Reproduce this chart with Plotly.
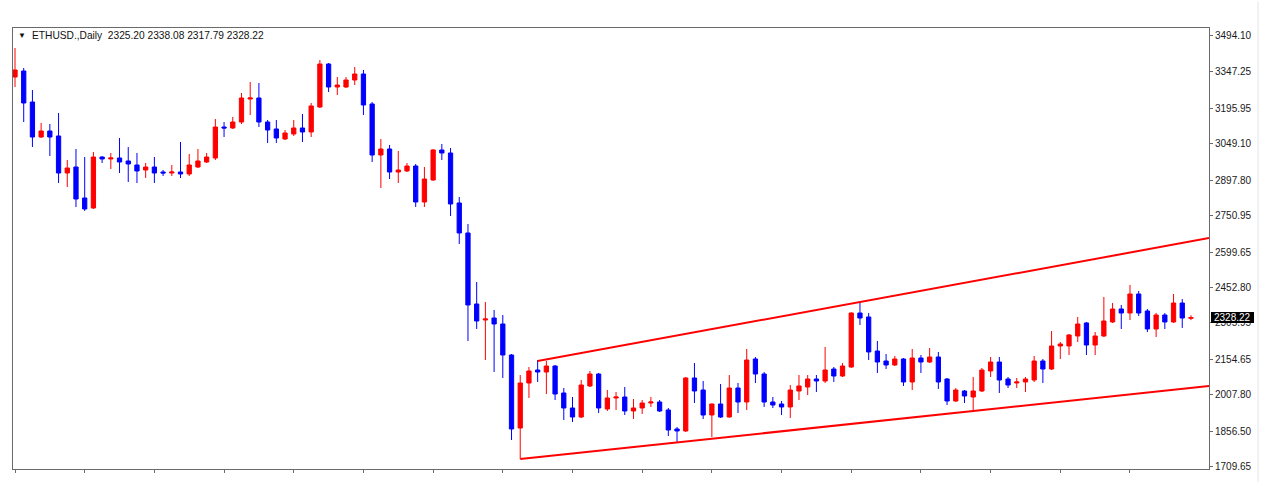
import plotly.graph_objects as go

# ---------------- data ----------------
symbol = "ETHUSD.,Daily"

opens = [3324.3, 3349.2, 3220.8, 3075.9, 3100.8, 3080.1, 2926.9, 2951.7, 2823.4, 2782.0,
         2993.1, 2984.9, 2989.0, 2976.6, 2960.0, 2939.3, 2951.7, 2931.0, 2926.9, 2931.0,
         2922.8, 2951.7, 2972.4, 2989.0, 3117.3, 3113.2, 3138.0, 3233.2, 3237.4, 3138.0,
         3109.1, 3067.6, 3088.4, 3113.2, 3096.7, 3200.1, 3378.1, 3282.9, 3282.9, 3311.9,
         3336.7, 3212.6, 3001.4, 3026.2, 2931.0, 2935.2, 2955.8, 2806.8, 2897.9, 3022.1,
         3009.7, 2802.7, 2678.5, 2384.5, 2318.2, 2326.5, 2301.7, 2173.3, 1871.1, 2057.4,
         2111.2, 2102.9, 2127.7, 2016.0, 1953.9, 1916.6, 2045.0, 2094.6, 1949.8, 1995.3,
         1999.4, 1941.5, 1953.9, 1974.6, 1978.7, 1945.6, 1867.0, 1858.7, 2078.1, 2028.4,
         1924.9, 1970.4, 1916.6, 2036.7, 1978.7, 2156.8, 2094.6, 1978.7, 1970.4, 1958.1,
         2024.3, 2040.8, 2073.9, 2065.7, 2115.3, 2086.3, 2123.6, 2347.2, 2330.7, 2189.9,
         2148.5, 2132.0, 2156.8, 2061.6, 2160.9, 2144.3, 2165.0, 2073.9, 1982.9, 2024.3,
         1999.4, 2024.3, 2107.1, 2144.3, 2073.9, 2057.4, 2061.6, 2069.8, 2148.5, 2115.3,
         2210.6, 2210.6, 2252.0, 2305.9, 2214.7, 2252.0, 2310.0, 2363.8, 2347.2, 2425.9,
         2355.5, 2281.0, 2338.9, 2310.0, 2388.6, 2325.20]

highs = [3444.4, 3361.6, 3270.5, 3133.9, 3129.7, 3175.3, 2980.7, 3026.2, 2993.1, 3013.8,
         2996.0, 3009.7, 3071.8, 3034.5, 3009.7, 2968.3, 2993.1, 2939.3, 2960.0, 3055.2,
         3005.6, 3026.2, 3009.7, 3150.5, 3138.0, 3158.8, 3258.1, 3303.6, 3299.5, 3146.3,
         3146.3, 3104.9, 3146.3, 3171.1, 3216.7, 3394.7, 3382.3, 3324.3, 3324.3, 3365.8,
         3353.3, 3220.8, 3067.6, 3042.8, 3017.9, 2968.3, 2964.2, 2951.7, 3026.2, 3047.0,
         3030.4, 2827.6, 2715.7, 2475.6, 2392.8, 2359.7, 2338.9, 2177.5, 2090.5, 2123.6,
         2152.6, 2148.5, 2132.0, 2036.7, 1999.4, 2069.8, 2107.1, 2098.8, 2028.4, 2020.1,
         2040.8, 1991.2, 1987.0, 1999.4, 1987.0, 1953.9, 1875.2, 2082.2, 2140.2, 2065.7,
         1972.0, 2053.2, 2090.5, 2057.4, 2198.2, 2165.0, 2102.9, 1999.4, 1982.9, 2049.1,
         2090.5, 2090.5, 2090.5, 2206.5, 2123.6, 2140.2, 2350.0, 2392.8, 2347.2, 2231.3,
         2177.5, 2169.2, 2160.9, 2198.2, 2173.3, 2202.3, 2185.8, 2078.1, 2036.7, 2028.4,
         2082.2, 2119.5, 2165.0, 2165.0, 2082.2, 2078.1, 2082.2, 2169.2, 2156.8, 2272.7,
         2227.2, 2260.3, 2330.7, 2310.0, 2268.5, 2413.5, 2388.6, 2380.4, 2463.2, 2438.3,
         2363.8, 2347.2, 2347.2, 2425.9, 2405.2, 2338.08]

lows = [3282.9, 3138.0, 3034.5, 3071.8, 2997.3, 2885.5, 2868.9, 2786.1, 2769.6, 2777.9,
        2968.3, 2943.4, 2926.9, 2889.6, 2885.5, 2906.2, 2885.5, 2914.5, 2914.5, 2906.2,
        2914.5, 2947.6, 2968.3, 2980.7, 3075.9, 3109.1, 3129.7, 3167.0, 3117.3, 3051.1,
        3051.1, 3063.5, 3080.1, 3055.2, 3075.9, 3195.9, 3262.2, 3249.8, 3278.8, 3291.2,
        3167.0, 2972.4, 2864.8, 2902.0, 2885.5, 2931.0, 2786.1, 2786.1, 2893.8, 2980.7,
        2748.9, 2632.9, 2231.3, 2281.0, 2152.6, 2102.9, 2078.1, 1821.4, 1742.7, 1995.3,
        2061.6, 2011.8, 1987.0, 1904.2, 1895.9, 1912.5, 2040.8, 1933.2, 1941.5, 1945.6,
        1924.9, 1908.4, 1929.0, 1958.1, 1937.3, 1837.9, 1809.0, 1854.5, 1974.6, 1908.4,
        1833.8, 1912.5, 1914.0, 1933.2, 1945.6, 2057.4, 1958.1, 1953.9, 1924.9, 1912.5,
        1987.0, 2007.7, 2020.1, 2057.4, 2061.6, 2082.2, 2120.0, 2297.6, 2152.6, 2098.8,
        2115.3, 2127.7, 2045.0, 2028.4, 2098.8, 2140.2, 2032.6, 1966.3, 1978.7, 1974.6,
        1945.6, 2020.1, 2082.2, 2016.0, 2036.7, 2036.7, 2020.1, 2061.6, 2057.4, 2111.2,
        2156.8, 2173.3, 2227.2, 2173.3, 2173.3, 2247.9, 2305.9, 2281.0, 2318.2, 2334.8,
        2268.5, 2247.9, 2281.0, 2305.9, 2285.2, 2317.79]

closes = [3353.3, 3216.7, 3075.9, 3100.8, 3075.9, 2926.9, 2947.6, 2819.2, 2777.9, 2993.1,
          2984.9, 2989.0, 2972.4, 2964.2, 2935.2, 2951.7, 2926.9, 2926.9, 2931.0, 2922.8,
          2960.0, 2976.6, 2993.1, 3117.3, 3113.2, 3138.0, 3237.4, 3237.4, 3138.0, 3104.9,
          3071.8, 3092.5, 3113.2, 3096.7, 3204.3, 3378.1, 3282.9, 3291.2, 3311.9, 3336.7,
          3208.4, 3001.4, 3026.2, 2931.0, 2939.3, 2955.8, 2806.8, 2902.0, 3022.1, 3009.7,
          2798.6, 2678.5, 2380.4, 2314.1, 2322.4, 2301.7, 2173.3, 1867.0, 2057.4, 2107.1,
          2102.9, 2127.7, 2011.8, 1953.9, 1916.6, 2049.1, 2094.6, 1953.9, 1995.3, 1999.4,
          1941.5, 1953.9, 1974.6, 1978.7, 1941.5, 1862.8, 1858.7, 2078.1, 2024.3, 1924.9,
          1970.4, 1916.6, 2036.7, 1978.7, 2152.6, 2094.6, 1978.7, 1966.3, 1958.1, 2028.4,
          2045.0, 2073.9, 2065.7, 2111.2, 2086.3, 2127.7, 2347.2, 2326.5, 2185.8, 2144.3,
          2132.0, 2156.8, 2061.6, 2160.9, 2144.3, 2165.0, 2061.6, 1982.9, 2028.4, 2003.6,
          2024.3, 2111.2, 2144.3, 2069.8, 2049.1, 2061.6, 2073.9, 2148.5, 2115.3, 2210.6,
          2218.9, 2256.2, 2301.7, 2214.7, 2252.0, 2314.1, 2363.8, 2347.2, 2425.9, 2347.2,
          2281.0, 2338.9, 2310.0, 2388.6, 2326.5, 2328.22]

bar_index = list(range(len(opens)))

price_ticks = [3494.10, 3347.25, 3195.95, 3049.10, 2897.80, 2750.95, 2599.65,
               2452.80, 2305.95, 2154.65, 2007.80, 1856.50, 1709.65]
time_ticks = list(range(0, 129, 8))

# channel trend lines: two anchor points each (bar index, price), drawn as rays
upper_idx = [60, 97]
upper_price = [2148.5, 2392.8]
lower_idx = [58, 110]
lower_price = [1742.7, 1941.5]

x_range = [-0.23, 137.07]
y_range = [1701.3, 3527.2]

# ---------------- styles ----------------
RED = "#FF0000"
BLUE = "#0000FF"
FRAME = "#6a6a6a"
FONT = "Liberation Sans"


def ray(xs, ys, x_end):
    slope = (ys[1] - ys[0]) / (xs[1] - xs[0])
    return [xs[0], x_end], [ys[0], ys[0] + slope * (x_end - xs[0])]


fig = go.Figure()

fig.add_trace(go.Candlestick(
    x=bar_index, open=opens, high=highs, low=lows, close=closes,
    increasing=dict(line=dict(color=RED, width=1), fillcolor=RED),
    decreasing=dict(line=dict(color=BLUE, width=1), fillcolor=BLUE),
    whiskerwidth=0, showlegend=False, hoverinfo="skip",
))

for xs, ys in ((upper_idx, upper_price), (lower_idx, lower_price)):
    rx, ry = ray(xs, ys, x_range[1])
    fig.add_trace(go.Scatter(
        x=rx, y=ry, mode="lines", line=dict(color=RED, width=2),
        showlegend=False, hoverinfo="skip",
    ))

header = "%s\u00a0\u00a0%s" % (
    symbol, " ".join("%.2f" % v for v in (opens[-1], highs[-1], lows[-1], closes[-1])))

fig.update_layout(
    width=1274, height=500,
    margin=dict(l=13, r=65, t=28, b=31),
    paper_bgcolor="white", plot_bgcolor="white",
    showlegend=False,
    font=dict(family=FONT, size=10, color="#000000"),
    xaxis=dict(
        range=x_range, showgrid=False, zeroline=False,
        showline=True, linecolor=FRAME, linewidth=1, mirror=True,
        ticks="outside", ticklen=3, tickcolor=FRAME, tickwidth=1,
        tickmode="array", tickvals=time_ticks, showticklabels=False,
        rangeslider=dict(visible=False), fixedrange=True,
    ),
    yaxis=dict(
        range=y_range, side="right", showgrid=False, zeroline=False,
        showline=True, linecolor=FRAME, linewidth=1, mirror=True,
        ticks="outside", ticklen=3, tickcolor=FRAME, tickwidth=1,
        tickmode="array", tickvals=price_ticks,
        ticktext=["%.2f" % v for v in price_ticks],
        tickfont=dict(family=FONT, size=10, color="#1a1a1a"),
        fixedrange=True,
    ),
    shapes=[
        # current price marker box on the price scale
        dict(type="rect", xref="paper", xsizemode="pixel", xanchor=1, x0=2, x1=45,
             yref="y", ysizemode="pixel", yanchor=closes[-1], y0=-5.5, y1=5.5,
             fillcolor="#000000", line=dict(width=0), layer="above"),
        # faint window border on the far right
        dict(type="line", xref="paper", yref="paper", x0=1.041, x1=1.041,
             y0=-0.03, y1=1.06, line=dict(color="#e4e4e4", width=1)),
    ],
    annotations=[
        dict(text="\u25bc", xref="paper", yref="paper", x=0, y=1,
             xanchor="left", yanchor="middle", xshift=3, yshift=-7,
             showarrow=False, font=dict(family=FONT, size=8, color="#111111")),
        dict(text=header, xref="paper", yref="paper", x=0, y=1,
             xanchor="left", yanchor="middle", xshift=17, yshift=-7,
             showarrow=False, font=dict(family=FONT, size=10.2, color="#111111")),
        dict(text="%.2f" % closes[-1], xref="paper", yref="y", x=1, y=closes[-1],
             xanchor="center", yanchor="middle", xshift=23.5,
             showarrow=False, font=dict(family=FONT, size=10, color="#ffffff")),
    ],
)

fig.write_html("out.html")
